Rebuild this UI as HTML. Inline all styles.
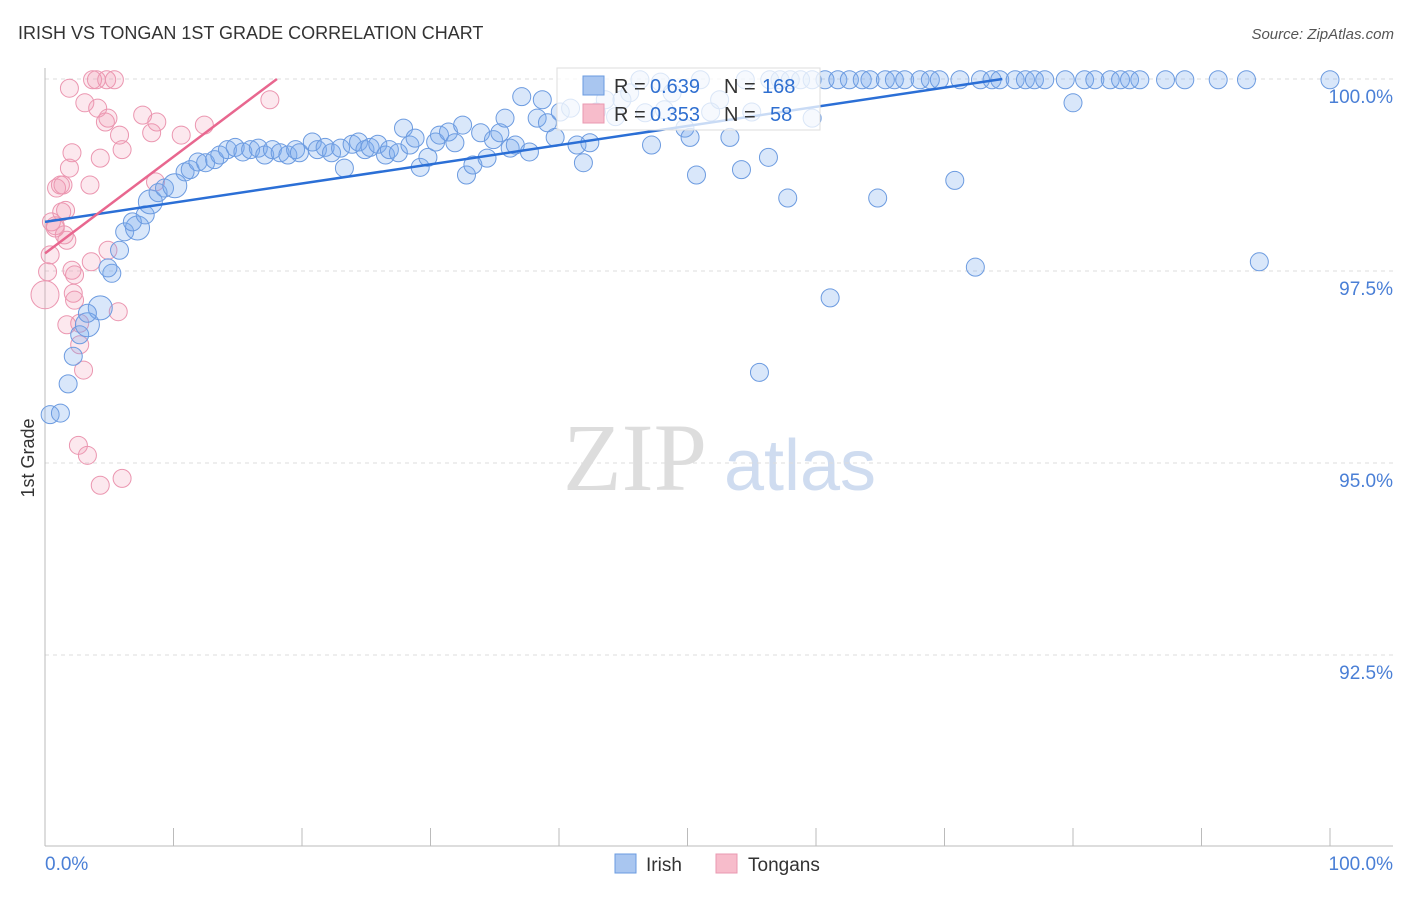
<!DOCTYPE html>
<html><head><meta charset="utf-8"><style>
body{margin:0;background:#fff;font-family:"Liberation Sans",sans-serif}
</style></head><body>
<svg id="chart" width="1406" height="892" xmlns="http://www.w3.org/2000/svg" font-family="Liberation Sans, sans-serif">
<text x="18" y="39" font-size="18" fill="#333">IRISH VS TONGAN 1ST GRADE CORRELATION CHART</text>
<text x="1394" y="39" font-size="15" fill="#555" text-anchor="end" font-style="italic">Source: ZipAtlas.com</text>
<text x="0" y="0" transform="translate(34,458) rotate(-90)" font-size="18" fill="#333" text-anchor="middle">1st Grade</text>
<g><text x="635" y="490" font-size="96" fill="#ddd" font-family="Liberation Serif, serif" text-anchor="middle">ZIP</text><text x="800" y="490" font-size="72" fill="#cfdcf0" text-anchor="middle">atlas</text></g>
<g id="grid"></g><g id="axes"></g><g id="pts"></g><g id="lines"></g>
<g>
<rect x="557" y="68" width="263" height="62" fill="#fff" fill-opacity="0.75" stroke="#ddd"/>
<rect x="583" y="76" width="21" height="19" fill="#a9c6f0" stroke="#6a9be0"/>
<rect x="583" y="104" width="21" height="19" fill="#f7bccb" stroke="#ea98b0"/>
<text x="614" y="93" font-size="20" fill="#333">R =</text>
<text x="650" y="93" font-size="20" fill="#2f6fd0">0.639</text>
<text x="724" y="93" font-size="20" fill="#333">N =</text>
<text x="762" y="93" font-size="20" fill="#2f6fd0">168</text>
<text x="614" y="121" font-size="20" fill="#333">R =</text>
<text x="650" y="121" font-size="20" fill="#2f6fd0">0.353</text>
<text x="724" y="121" font-size="20" fill="#333">N =</text>
<text x="770" y="121" font-size="20" fill="#2f6fd0">58</text>
</g>
<g>
<rect x="615" y="854" width="21" height="19" fill="#a9c6f0" stroke="#6a9be0"/>
<text x="646" y="871" font-size="19" fill="#333">Irish</text>
<rect x="716" y="854" width="21" height="19" fill="#f7bccb" stroke="#ea98b0"/>
<text x="748" y="871" font-size="19" fill="#333">Tongans</text>
</g>
<text x="45" y="870" font-size="19" fill="#4a7fd6">0.0%</text>
<text x="1393" y="870" font-size="19" fill="#4a7fd6" text-anchor="end">100.0%</text>
</svg>
<script>
const yTicks=[100,97.5,95,92.5];
const yTickLabels=["100.0%","97.5%","95.0%","92.5%"];
const xTicks=[0,10,20,30,40,50,60,70,80,90,100];
const irishX=[0.4,1.2,1.8,2.2,2.7,3.3,4.3,3.3,5.2,4.9,5.8,6.2,7.2,6.8,7.8,8.2,8.8,9.3,10.1,10.9,11.3,11.9,12.5,13.2,13.6,14.2,14.8,15.4,16.0,16.6,17.1,17.7,18.3,18.9,19.5,19.8,20.8,21.2,21.8,22.3,23.0,23.3,23.9,24.4,24.9,25.3,25.9,26.5,26.8,27.5,27.9,28.4,28.8,29.2,29.8,30.4,30.7,31.4,31.9,32.5,32.8,33.3,33.9,34.4,34.9,35.4,35.8,36.2,36.6,37.1,37.7,38.3,38.7,39.1,39.7,40.1,40.9,41.4,41.9,42.4,42.9,43.6,44.4,44.9,45.5,46.3,46.7,47.2,47.9,48.2,48.8,49.8,50.2,50.7,51.0,51.8,52.5,53.3,54.2,54.5,55.0,56.3,56.4,57.2,57.8,58.0,58.8,59.7,59.7,60.7,61.1,61.7,62.6,63.6,64.2,64.8,65.4,66.1,66.9,68.1,68.9,69.6,70.8,71.2,72.4,72.8,73.7,74.3,75.5,76.3,77.0,77.8,79.4,80.0,80.9,81.7,82.9,83.7,84.4,85.2,87.2,88.7,91.3,93.5,94.5,100,55.6];
const irishY=[95.63,95.65,96.03,96.39,96.67,96.8,97.02,96.95,97.47,97.54,97.77,98.01,98.06,98.14,98.23,98.4,98.52,98.58,98.61,98.79,98.82,98.92,98.91,98.95,99.01,99.08,99.11,99.05,99.08,99.10,99.01,99.08,99.04,99.01,99.08,99.04,99.18,99.08,99.11,99.04,99.10,98.84,99.15,99.18,99.08,99.11,99.15,99.01,99.08,99.04,99.36,99.14,99.23,98.85,98.98,99.18,99.27,99.31,99.17,99.40,98.75,98.88,99.30,98.97,99.21,99.30,99.49,99.10,99.14,99.77,99.05,99.49,99.73,99.43,99.24,99.57,99.62,99.14,98.91,99.17,99.57,99.73,99.51,99.73,99.82,99.99,99.56,99.14,99.96,99.6,99.82,99.36,99.24,98.75,99.99,99.57,99.73,99.24,98.82,99.99,99.57,98.98,99.99,99.99,98.45,99.99,99.99,99.49,99.99,99.99,97.15,99.99,99.99,99.99,99.99,98.45,99.99,99.99,99.99,99.99,99.99,99.99,98.68,99.99,97.55,99.99,99.99,99.99,99.99,99.99,99.99,99.99,99.99,99.69,99.99,99.99,99.99,99.99,99.99,99.99,99.99,99.99,99.99,99.99,97.62,99.99,96.18];
const irishBig=[5,6,12,15,18];
const tonganX=[0,0.2,0.4,0.5,0.8,0.9,1.2,1.3,1.6,1.7,1.9,2.1,2.1,1.9,2.3,2.2,2.3,1.7,2.7,2.7,3.0,2.6,3.3,3.6,3.5,4.3,3.7,4.0,4.8,5.4,3.1,4.1,4.7,4.9,4.9,5.8,6.0,5.7,6.0,4.3,7.6,8.3,8.7,8.6,10.6,12.4,17.5,1.5,0.8,1.4];
const tonganY=[97.19,97.49,97.71,98.14,98.06,98.58,98.62,98.27,98.29,97.9,99.88,97.51,99.04,98.84,97.45,97.21,97.12,96.8,96.82,96.54,96.21,95.23,95.1,97.62,98.62,98.97,99.99,99.99,99.99,99.99,99.69,99.62,99.44,99.49,97.77,99.27,99.08,96.97,94.8,94.71,99.53,99.30,99.44,98.66,99.27,99.40,99.73,97.97,98.09,98.62];
const irishTrend=[[0,98.14],[74.5,100]];
const tonganTrend=[[0,97.73],[18.05,100]];
const NS='http://www.w3.org/2000/svg';
const sx=v=>45+v*12.85, sy=v=>79+(100-v)*76.8;
function mk(tag,at,parent){const e=document.createElementNS(NS,tag);for(const k in at)e.setAttribute(k,at[k]);parent.appendChild(e);return e;}
const grid=document.getElementById('grid'),axes=document.getElementById('axes'),pts=document.getElementById('pts'),lines=document.getElementById('lines');
yTicks.forEach((t,i)=>{
 const g=mk('line',{x1:45,x2:1393,y1:sy(t),y2:sy(t),stroke:'#ddd','stroke-dasharray':'4,4'},grid);
 
 
 const tx=mk('text',{x:1393,y:sy(t)+24,'font-size':19,fill:'#4a7fd6','text-anchor':'end'},grid);
 tx.textContent=yTickLabels[i];
 
 
});
const ya=mk('line',{x1:45,x2:45,y1:68,y2:846,stroke:'#bbb'},axes);


const xa=mk('line',{x1:45,x2:1393,y1:846,y2:846,stroke:'#bbb'},axes);


xTicks.forEach(t=>{
 const l=mk('line',{x1:sx(t),x2:sx(t),y1:828,y2:846,stroke:'#bbb'},axes);
 
 
});
tonganX.forEach((x,i)=>{
 const c=mk('circle',{cx:sx(x),cy:sy(tonganY[i]),r:i==0?14:9,fill:'rgba(240,150,178,0.22)',stroke:'#eb96b0','stroke-width':1},pts);
 
 
});
irishX.forEach((x,i)=>{
 const c=mk('circle',{cx:sx(x),cy:sy(irishY[i]),r:irishBig.includes(i)?12:9,fill:'rgba(120,168,238,0.28)',stroke:'#6c9be0','stroke-width':1},pts);
 
 
});
const bl=mk('line',{x1:sx(irishTrend[0][0]),y1:sy(irishTrend[0][1]),x2:sx(irishTrend[1][0]),y2:sy(irishTrend[1][1]),stroke:'#2b6fd6','stroke-width':2.5},lines);


const pl=mk('line',{x1:sx(tonganTrend[0][0]),y1:sy(tonganTrend[0][1]),x2:sx(tonganTrend[1][0]),y2:sy(tonganTrend[1][1]),stroke:'#e8678f','stroke-width':2.5},lines);


</script>
</body></html>
